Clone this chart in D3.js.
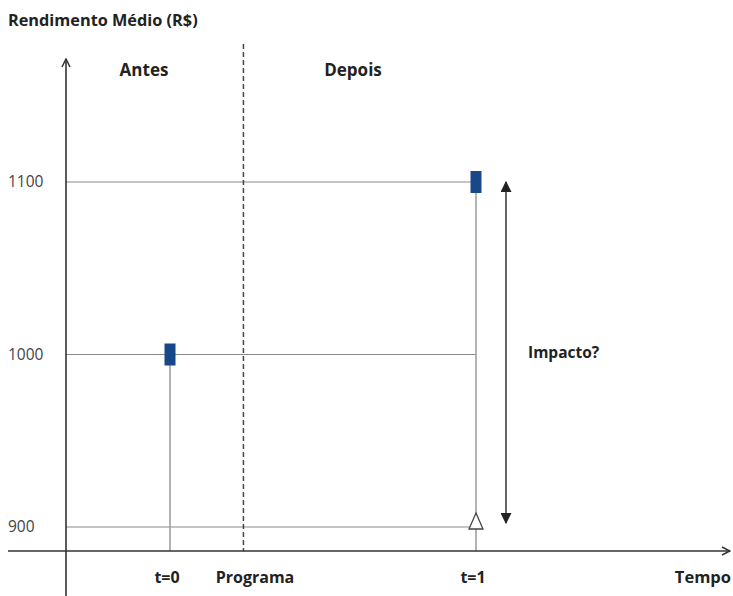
<!DOCTYPE html>
<html><head><meta charset="utf-8">
<script src="https://cdn.jsdelivr.net/npm/d3@7"></script>
<style>body{margin:0;background:#fff}svg{display:block}</style>
</head><body>
<script>
// Data
const times = [0, 1];
const timeLabels = ["t=0", "t=1"];
const programTime = 0.24;
const programLabel = "Programa";
const observed = [1000, 1100];          // Rendimento médio observado
const counterfactualTime = [1];
const counterfactual = [900];           // contrafactual (triângulo)
const yTicks = [900, 1000, 1100];
const periodLabels = ["Antes", "Depois"];
const yTitle = "Rendimento Médio (R$)";
const xTitle = "Tempo";
const impactLabel = "Impacto?";

const W = 733, H = 596;
const svg = d3.select("body").append("svg").attr("width", W).attr("height", H);
const defs = svg.append("defs");
defs.append("marker").attr("id","open").attr("viewBox","0 0 10 10").attr("refX",9).attr("refY",5)
  .attr("markerWidth",10).attr("markerHeight",10).attr("markerUnits","userSpaceOnUse").attr("orient","auto")
  .append("path").attr("d","M1,1 L9,5 L1,9").attr("fill","none").attr("stroke","#333").attr("stroke-width",1.5);
defs.append("marker").attr("id","solid").attr("viewBox","0 0 10 10").attr("refX",9).attr("refY",5)
  .attr("markerWidth",11).attr("markerHeight",11).attr("markerUnits","userSpaceOnUse").attr("orient","auto-start-reverse")
  .append("path").attr("d","M0,0 L10,5 L0,10 Z").attr("fill","#222");

const x = d3.scaleLinear().domain([0, 1]).range([170, 476]);
const y = d3.scaleLinear().domain([900, 1100]).range([527, 182]);
const axisX = 66, axisY = 551;

const font = "'Open Sans', 'Noto Sans', sans-serif";

// gridlines to t=1
svg.selectAll(".grid").data(yTicks).join("line")
  .attr("x1", axisX).attr("x2", x(1)).attr("y1", d => y(d)).attr("y2", d => y(d))
  .attr("stroke", "#8a8a8a").attr("stroke-width", 1.2);

// tick labels
svg.selectAll(".tick").data(yTicks).join("text")
  .attr("x", 8).attr("y", d => y(d) + 5).text(d => d)
  .attr("font-family", font).attr("font-size", 15.5).attr("fill", "#444");

// vertical drop lines
svg.selectAll(".drop").data(times).join("line")
  .attr("x1", d => x(d)).attr("x2", d => x(d)).attr("y1", (d,i) => y(observed[i])).attr("y2", axisY)
  .attr("stroke", "#9a9a9a").attr("stroke-width", 1.5);

// program dashed line
svg.append("line").attr("x1", x(programTime)).attr("x2", x(programTime)).attr("y1", 44).attr("y2", axisY)
  .attr("stroke", "#444").attr("stroke-width", 1.5).attr("stroke-dasharray", "5,3");

// axes
svg.append("line").attr("x1", axisX).attr("x2", axisX).attr("y1", H).attr("y2", 59)
  .attr("stroke", "#333").attr("stroke-width", 1.6).attr("marker-end", "url(#open)");
svg.append("line").attr("x1", 8).attr("x2", 730).attr("y1", axisY).attr("y2", axisY)
  .attr("stroke", "#333").attr("stroke-width", 1.6).attr("marker-end", "url(#open)");

// counterfactual triangle
svg.selectAll(".tri").data(counterfactual).join("path")
  .attr("transform", (d,i) => `translate(${x(counterfactualTime[i])},${y(d) - 6})`)
  .attr("d", "M0,-8 L7,8 L-7,8 Z").attr("fill", "#fff").attr("stroke", "#444").attr("stroke-width", 1.3);

// observed markers
svg.selectAll(".obs").data(observed).join("rect")
  .attr("x", (d,i) => x(times[i]) - 5.5).attr("y", d => y(d) - 11)
  .attr("width", 11).attr("height", 22).attr("fill", "#17498a");

// impact double arrow
svg.append("line").attr("x1", 506).attr("x2", 506).attr("y1", y(observed[1])).attr("y2", y(counterfactual[0]) - 4)
  .attr("stroke", "#333").attr("stroke-width", 1.5)
  .attr("marker-start", "url(#solid)").attr("marker-end", "url(#solid)");

const bold = (t, xx, yy, anchor, fs) => svg.append("text").attr("x", xx).attr("y", yy).text(t)
  .attr("font-family", font).attr("font-weight", "bold").attr("font-size", fs || 16)
  .attr("fill", "#222").attr("text-anchor", anchor || "start");

bold(yTitle, 8, 26, "start", 16.3);
bold(periodLabels[0], 144, 76, "middle", 17);
bold(periodLabels[1], 353, 76, "middle", 17);
bold(impactLabel, 528, 358, "start", 15.5);
svg.selectAll(".xl").data(times).join("text")
  .attr("x", d => x(d) - 3).attr("y", 583).text((d,i) => timeLabels[i])
  .attr("font-family", font).attr("font-weight", "bold").attr("font-size", 16)
  .attr("fill", "#222").attr("text-anchor", "middle");
bold(programLabel, 255, 583, "middle", 16);
bold(xTitle, 731, 583, "end", 16.5);
</script>
</body></html>
